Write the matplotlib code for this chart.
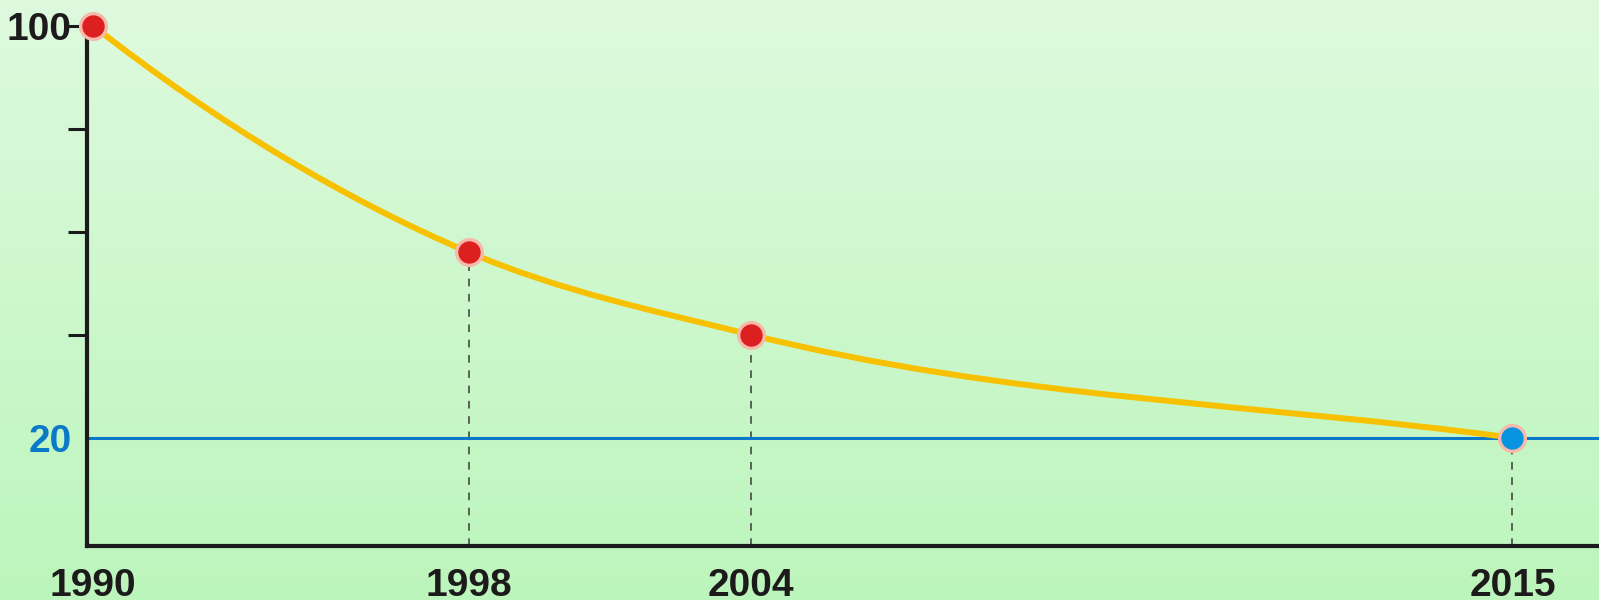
import numpy as np
import matplotlib
matplotlib.use('Agg')
import matplotlib.pyplot as plt
from matplotlib.path import Path
from matplotlib.patches import PathPatch

# data
years = [1990, 1998, 2004, 2015]
values = [100, 56, 40, 20]
target = 20
yticks = [20, 40, 60, 80, 100]
ytick_labels = ['20', '', '', '', '100']

plt.rcParams['font.family'] = ['Liberation Sans Narrow', 'Liberation Sans', 'DejaVu Sans']
plt.rcParams['font.weight'] = 'bold'


# the time axis is not to scale: the last gap is stretched
def fwd(x):
    x = np.asarray(x, float)
    return np.where(x <= 2004, (x - 1990) * 47.0, 658 + (x - 2004) * 69.2)


def inv(u):
    u = np.asarray(u, float)
    return np.where(u <= 658, 1990 + u / 47.0, 2004 + (u - 658) / 69.2)


fig = plt.figure(figsize=(15.99, 6), dpi=100)

# gradient background
bg = fig.add_axes([0, 0, 1, 1], zorder=-1)
grad = np.linspace(0, 1, 256).reshape(-1, 1)
top = np.array([0xde, 0xfa, 0xde]) / 255
bot = np.array([0xbc, 0xf5, 0xbc]) / 255
img = top + (bot - top) * grad[:, :, None]
bg.imshow(img, aspect='auto', extent=[0, 1, 0, 1])
bg.axis('off')

ax = fig.add_axes([87 / 1599, 0.09, 1 - 87 / 1599, 0.91])
ax.set_facecolor('none')
ax.set_xscale('function', functions=(fwd, inv))
ax.set_xlim(1989.872, 2016.25)
ax.set_ylim(-1, 105)

# smooth curve through the points (cubic bezier, tangents in display-like units)
X = fwd(years)
Y = np.array(values, float)
h = np.diff(X)
s = np.diff(Y) / h
m = np.empty(len(X))
m[1:-1] = (s[:-1] * h[1:] + s[1:] * h[:-1]) / (h[:-1] + h[1:])
m[0] = 2 * s[0] - m[1]
m[-1] = s[-1]
verts = [(X[0], Y[0])]
codes = [Path.MOVETO]
for i in range(len(h)):
    verts += [(X[i] + h[i] / 3, Y[i] + m[i] * h[i] / 3),
              (X[i + 1] - h[i] / 3, Y[i + 1] - m[i + 1] * h[i] / 3),
              (X[i + 1], Y[i + 1])]
    codes += [Path.CURVE4] * 3
verts = np.array(verts)
verts[:, 0] = inv(verts[:, 0])
ax.add_patch(PathPatch(Path(verts, codes), fill=False, edgecolor='#f7c100',
                       lw=4.3, zorder=3, capstyle='round'))

# target line
ax.axhline(target, color='#0a78c8', lw=2.2, zorder=2)

# dashed drop lines
ax.vlines(years[1:], -1, values[1:], colors='#3a3a3a', linestyles=(0, (5, 5)),
          lw=1.1, zorder=1)

# markers
ax.plot(years[:-1], values[:-1], 'o', ms=18.5, color='#dc2020',
        mec='#f7b9aa', mew=2.4, zorder=5, clip_on=False)
ax.plot(years[-1:], values[-1:], 'o', ms=18.5, color='#0893e0',
        mec='#f7b9aa', mew=2.4, zorder=5, clip_on=False)

# axes styling
for side in ['top', 'right']:
    ax.spines[side].set_visible(False)
for side in ['left', 'bottom']:
    ax.spines[side].set_color('#1c1a1a')
    ax.spines[side].set_linewidth(3)
    ax.spines[side].set_capstyle('projecting')
ax.spines['left'].set_bounds(-1, 100)

ax.set_yticks(yticks)
ax.set_yticklabels(ytick_labels)
ax.tick_params(axis='y', length=14, width=2.2, color='#1c1a1a', pad=-3,
               labelsize=28, labelcolor='#1c1a1a')
t20 = ax.yaxis.get_major_ticks()[0]
t20.tick1line.set_visible(False)
ax.get_yticklabels()[0].set_color('#0a7ac8')

ax.set_xticks(years)
ax.set_xticklabels([str(y) for y in years])
ax.tick_params(axis='x', length=0, pad=16, labelsize=28, labelcolor='#1c1a1a')
ax.minorticks_off()

fig.savefig('out.png', dpi=100)
